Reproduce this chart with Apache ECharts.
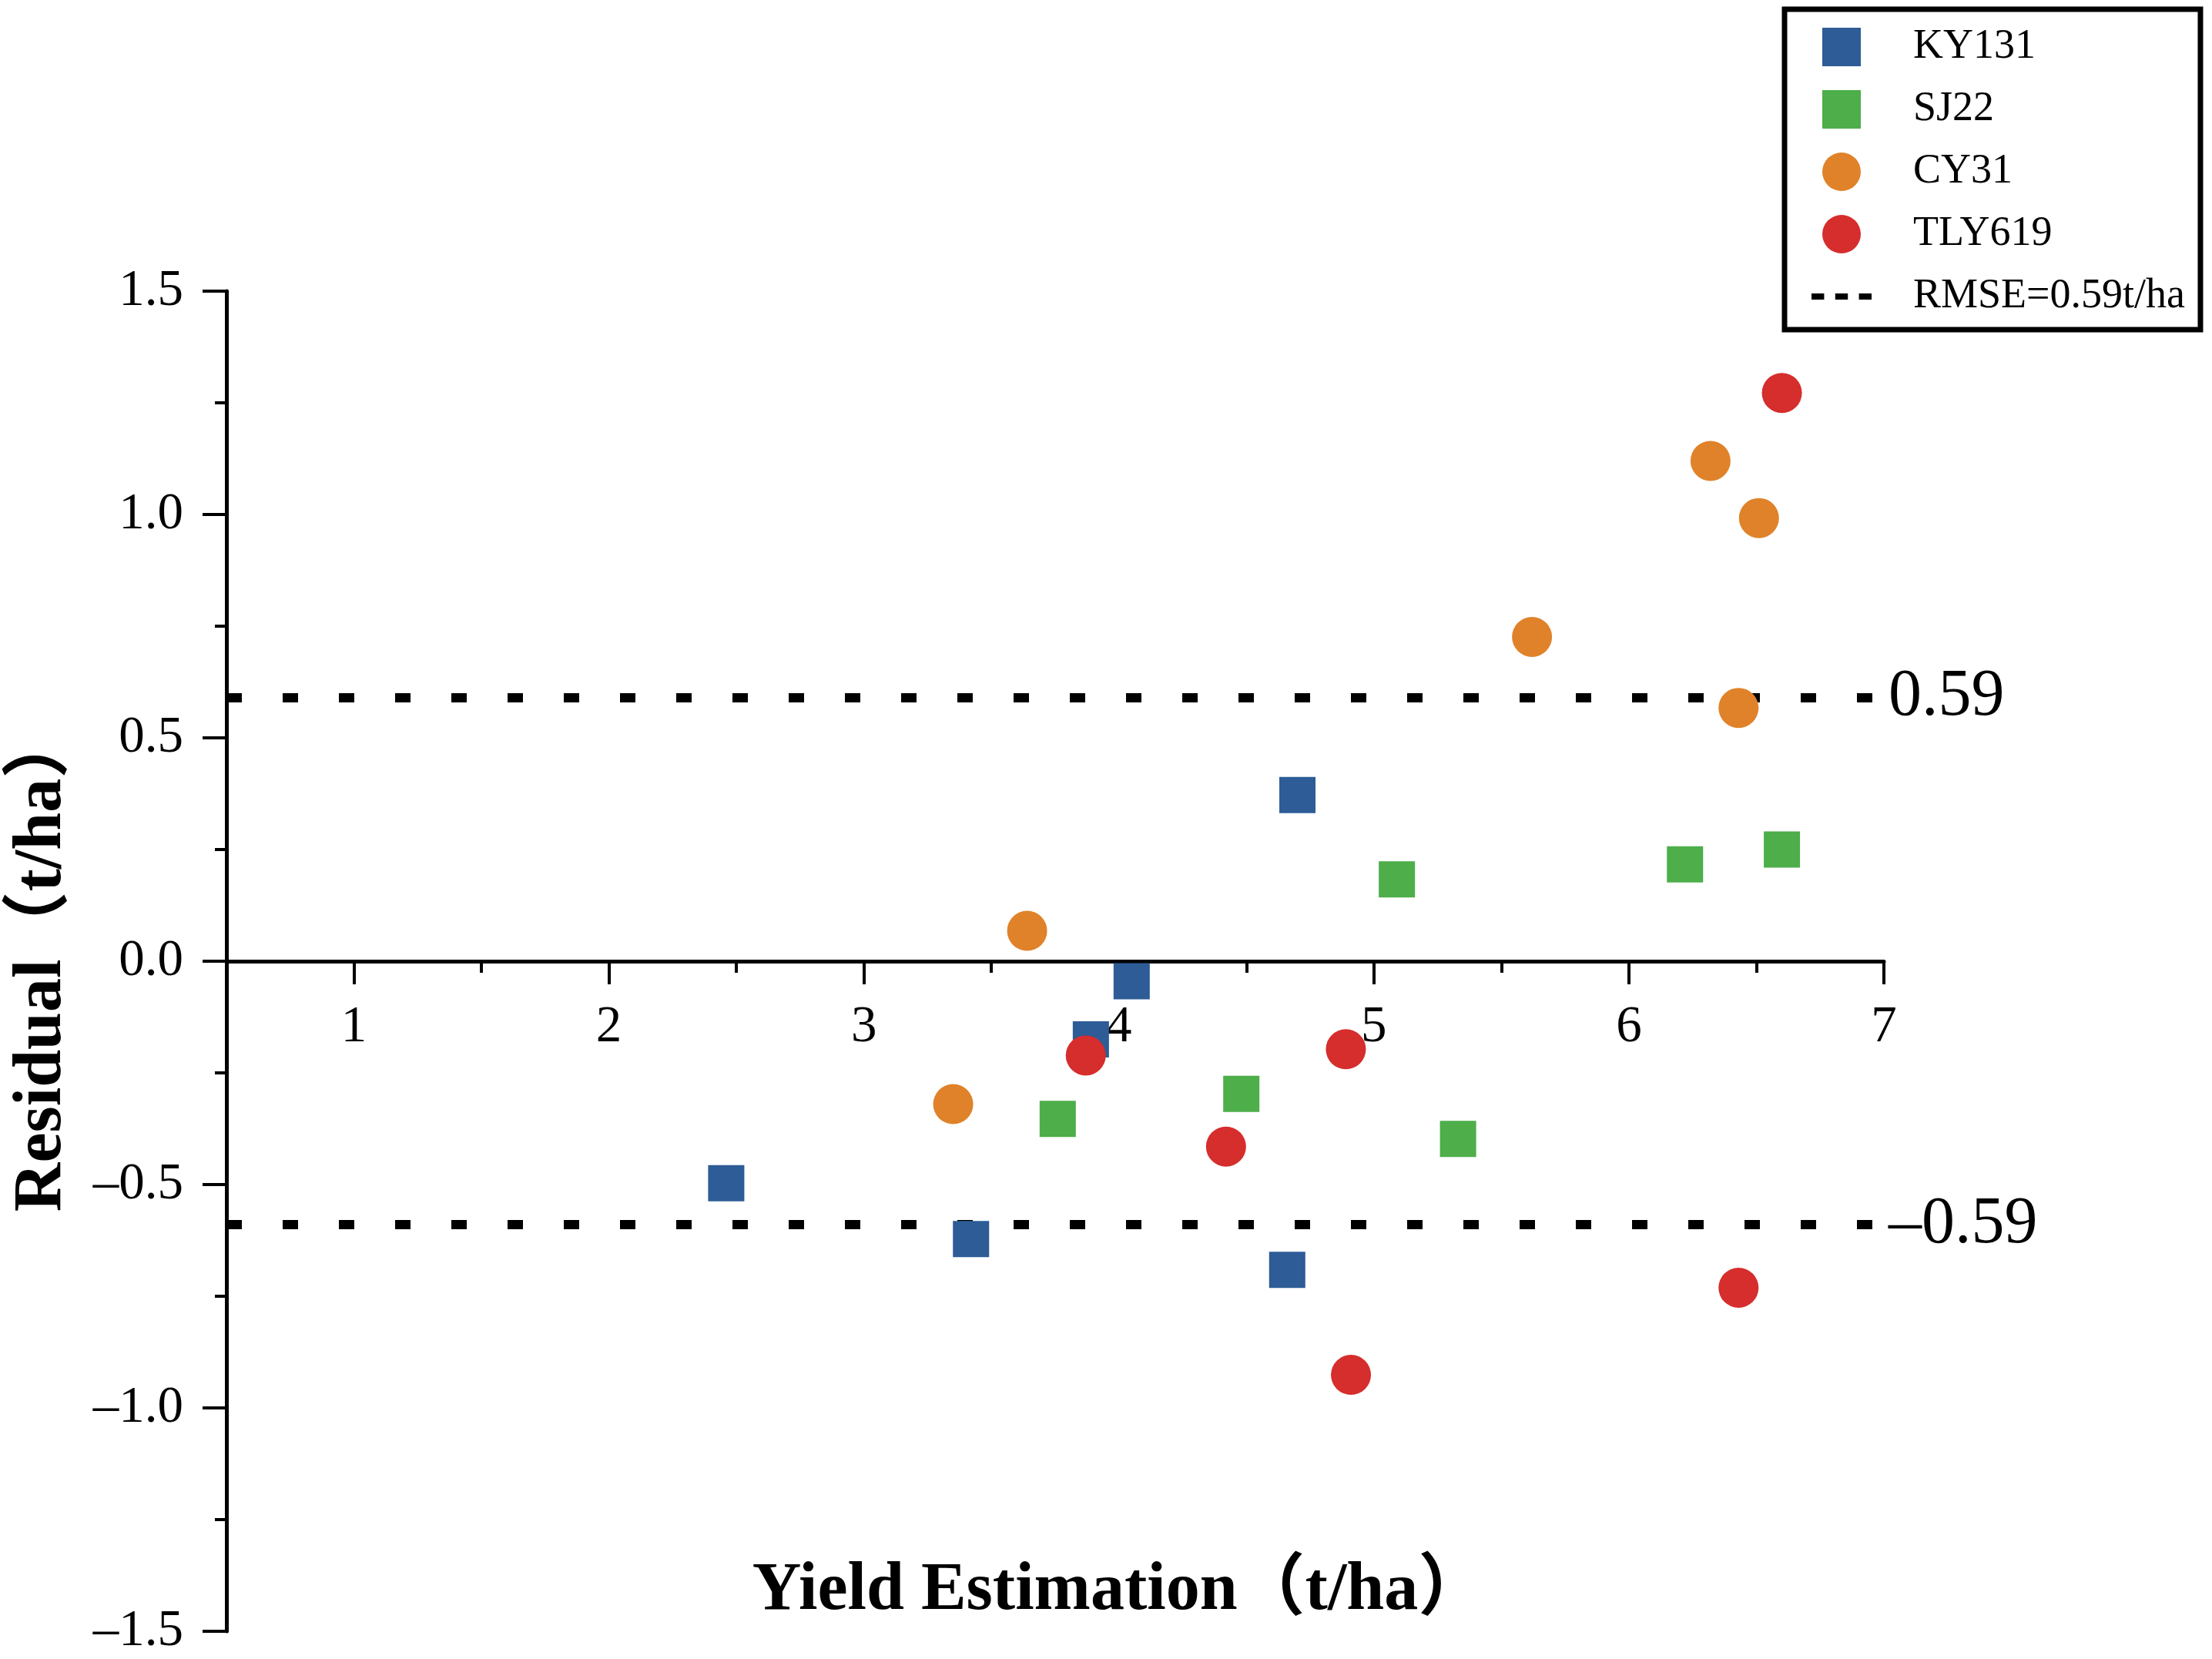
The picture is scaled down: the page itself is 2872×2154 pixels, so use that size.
<!DOCTYPE html>
<html><head><meta charset="utf-8">
<script src="https://cdn.jsdelivr.net/npm/echarts@6/dist/echarts.min.js"></script>
<style>html,body{margin:0;padding:0;background:#fff}#c{width:2872px;height:2154px}</style>
</head><body><div id="c"></div>
<script>
// ---- data ----
const ky131  = [[2.46,-0.497],[3.42,-0.622],[3.89,-0.175],[4.05,-0.045],[4.70,0.372],[4.66,-0.691]];
const sj22   = [[3.76,-0.353],[4.48,-0.297],[5.09,0.183],[5.33,-0.398],[6.22,0.217],[6.60,0.250]];
const cy31   = [[3.35,-0.320],[3.64,0.068],[5.62,0.726],[6.32,1.120],[6.51,0.992],[6.43,0.567]];
const tly619 = [[3.87,-0.211],[4.42,-0.415],[4.89,-0.197],[4.91,-0.926],[6.43,-0.731],[6.60,1.272]];
const rmse = 0.59;
const rmseName = 'RMSE=0.59t/ha';
const xRange = [0.5, 7];
const yRange = [-1.5, 1.5];

const FONT = "'Liberation Serif','Noto Sans CJK SC',serif";
const chart = echarts.init(document.getElementById('c'));
const sq = 'path://M0,0H10V10H0Z';
// plot area: left 294, right edge 2446, top 378, bottom edge 2118; y=0 at 1248
chart.setOption({
  animation: false,
  backgroundColor: '#fff',
  grid: [
    { left: 294, right: 426, top: 378, bottom: 36, containLabel: false, outerBoundsMode: 'none' },
    { left: 294, right: 426, top: 378, bottom: 906, containLabel: false, outerBoundsMode: 'none' }
  ],
  legend: {
    orient: 'vertical', left: 2317, top: 12,
    padding: [22, 20, 16, 35],
    borderColor: '#000', borderWidth: 7, backgroundColor: '#fff',
    itemWidth: 78, itemHeight: 50, itemGap: 27,
    textStyle: { fontFamily: FONT, fontSize: 54, color: '#000', padding: [0, 0, 0, 49] },
    data: [
      { name: 'KY131', icon: sq },
      { name: 'SJ22', icon: sq },
      { name: 'CY31', icon: 'circle' },
      { name: 'TLY619', icon: 'circle' },
      { name: rmseName, icon: 'path://M0,0H16V8H0Z M30,0H46V8H30Z M60,0H76V8H60Z' }
    ]
  },
  xAxis: [{
    gridIndex: 0, type: 'value', min: xRange[0], max: xRange[1], interval: 0.5, position: 'bottom',
    axisLine: { show: false, onZero: true },
    axisTick: { show: true, length: 15, lineStyle: { color: '#000', width: 4 } },
    axisLabel: { show: false },
    splitLine: { show: false }
  }, {
    gridIndex: 1, type: 'value', min: xRange[0], max: xRange[1], minInterval: 1, maxInterval: 1, splitNumber: 6,
    position: 'bottom',
    name: 'Yield Estimation（t/ha）', nameLocation: 'middle', nameGap: 774,
    nameTextStyle: { fontFamily: FONT, fontWeight: 'bold', fontSize: 88, color: '#000', padding: [0, 0, 0, 166] },
    axisLine: { show: true, onZero: false, lineStyle: { color: '#000', width: 5 } },
    axisTick: { show: true, length: 30, lineStyle: { color: '#000', width: 4 } },
    axisLabel: { margin: 53, fontFamily: FONT, fontSize: 67, color: '#000',
      formatter: v => Number.isInteger(v) ? String(v) : '' },
    splitLine: { show: false }
  }],
  yAxis: [{
    gridIndex: 0, type: 'value', min: yRange[0], max: yRange[1], interval: 0.5,
    name: 'Residual（t/ha）', nameLocation: 'middle', nameGap: 195,
    nameTextStyle: { fontFamily: FONT, fontWeight: 'bold', fontSize: 88, color: '#000' },
    axisLine: { show: true, onZero: false, lineStyle: { color: '#000', width: 5 } },
    axisTick: { show: true, length: 31, lineStyle: { color: '#000', width: 4 } },
    minorTick: { show: true, splitNumber: 2, length: 15, lineStyle: { color: '#000', width: 4 } },
    axisLabel: { margin: 56, fontFamily: FONT, fontSize: 67, color: '#000',
      formatter: v => v.toFixed(1).replace('-', '–') },
    splitLine: { show: false }
  }, {
    gridIndex: 1, type: 'value', min: 0, max: yRange[1], show: false
  }],
  series: [
    { name: rmseName, type: 'line', data: [], symbol: 'none', color: '#000',
      lineStyle: { color: '#000', width: 12, type: [20, 53] },
      markLine: {
        silent: true, z: 1, symbol: ['none', 'none'], animation: false,
        lineStyle: { color: '#000', width: 12, type: [20, 53], cap: 'butt' },
        label: { show: true, position: 'end', distance: 6, fontFamily: FONT, fontSize: 86, color: '#000',
          formatter: p => Number(p.value).toFixed(2).replace('-', '–') },
        emphasis: { disabled: true },
        data: [{ yAxis: rmse }, { yAxis: -rmse }]
      }
    },
    { name: 'KY131', type: 'scatter', data: ky131, symbol: 'rect', symbolSize: 47, itemStyle: { color: '#2D5C96', opacity: 1 } },
    { name: 'SJ22', type: 'scatter', data: sj22, symbol: 'rect', symbolSize: 47, itemStyle: { color: '#4DAE4A', opacity: 1 } },
    { name: 'CY31', type: 'scatter', data: cy31, symbol: 'circle', symbolSize: 52, itemStyle: { color: '#E08229', opacity: 1 } },
    { name: 'TLY619', type: 'scatter', data: tly619, symbol: 'circle', symbolSize: 52, itemStyle: { color: '#D62D2D', opacity: 1 } }
  ]
});
</script></body></html>
